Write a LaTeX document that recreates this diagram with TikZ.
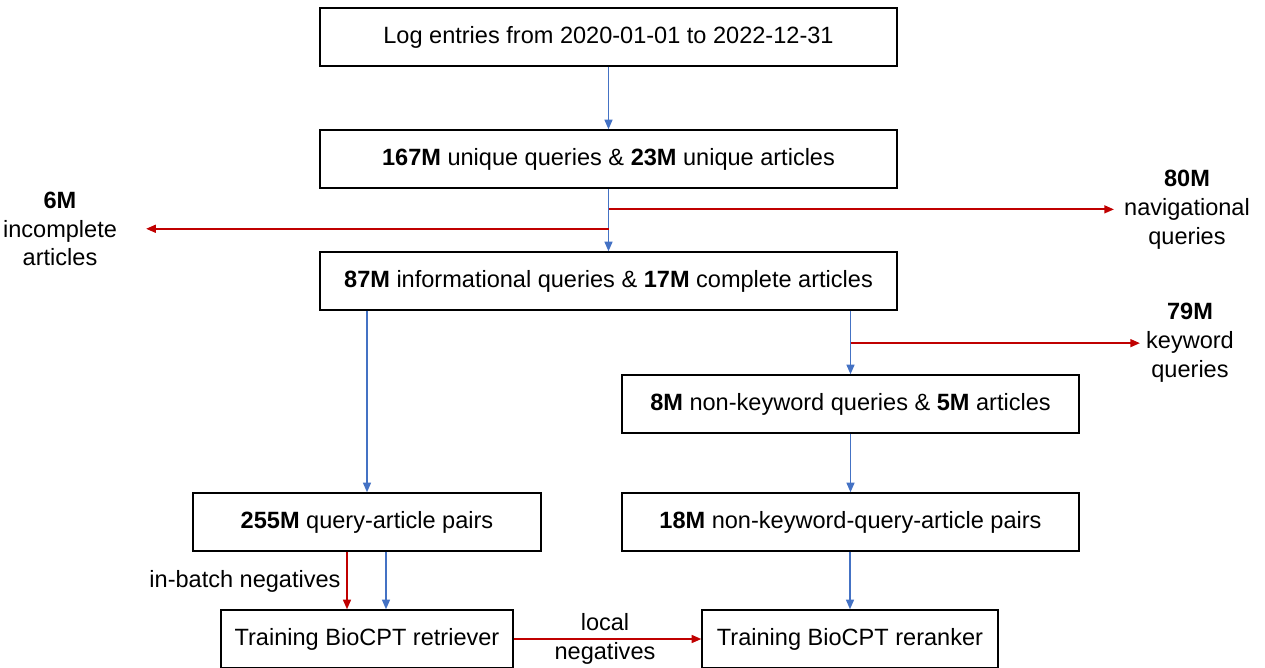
\documentclass[tikz,border=0pt]{standalone}
\usepackage{fontspec}
\setmainfont{Liberation Sans}
\usetikzlibrary{arrows.meta,calc}

\definecolor{keepblue}{RGB}{68,114,196}
\definecolor{dropred}{RGB}{192,0,0}

\tikzset{
    stage/.style={draw, line width=0.8pt, minimum height=1.16cm, inner sep=0pt},
    keep/.style={draw=keepblue, line width=0.95pt, -{Triangle[length=5.5pt,width=4.5pt]}},
    drop/.style={draw=dropred, line width=1pt, -{Triangle[length=5.5pt,width=4.5pt]}},
    side/.style={align=center}
}

\begin{document}
\begin{tikzpicture}[x=0.02cm, y=-0.02cm, font=\fontsize{13.4}{16.4}\selectfont]
            \useasboundingbox (0,0) rectangle (1265,667);

            \node[stage, minimum width=11.54cm] (log) at (608.5,37) {Log entries from 2020-01-01 to 2022-12-31};
            \node[stage, minimum width=11.54cm] (uniq) at (608.5,159) {\textbf{167M} unique queries \& \textbf{23M} unique articles};
            \node[stage, minimum width=11.54cm] (info) at (608.5,281) {\textbf{87M} informational queries \& \textbf{17M} complete articles};
            \node[stage, minimum width=9.14cm] (nonkw) at (850.5,404) {\textbf{8M} non-keyword queries \& \textbf{5M} articles};
            \node[stage, minimum width=6.96cm] (pairs) at (367,522) {\textbf{255M} query-article pairs};
            \node[stage, minimum width=9.14cm] (nkpairs) at (850.5,522) {\textbf{18M} non-keyword-query-article pairs};
            \node[stage, minimum width=5.84cm] (retr) at (367,639) {Training BioCPT retriever};
            \node[stage, minimum width=5.92cm] (rerank) at (850,639) {Training BioCPT reranker};

            \node[side] (nav) at (1187,210) {\textbf{80M}\\navigational\\queries};
            \node[side] (incompl) at (60,229) {\textbf{6M}\\incomplete\\articles};
            \node[side] (kw) at (1190,343) {\textbf{79M}\\keyword\\queries};
            \node (inbatch) at (245,581) {in-batch negatives};
            \node[side] (localneg) at (605,639) {local\\negatives};

            \coordinate (navcut) at ($(uniq.south)!0.33!(info.north)$);
            \coordinate (incut) at ($(uniq.south)!0.64!(info.north)$);
            \coordinate (kwcut) at ($(info.south -| nonkw.north)!0.51!(nonkw.north)$);

            \draw[keep] (log) -- (uniq);
            \draw[keep] (uniq) -- (info);
            \draw[keep] (info.south -| nonkw.north) -- (nonkw);
            \draw[keep] (info.south -| pairs.north) -- (pairs);
            \draw[keep] (nonkw) -- (nkpairs);
            \draw[keep] (nkpairs.south -| rerank.north) -- (rerank);
            \draw[keep] ([xshift=0.38cm]pairs.south) -- ([xshift=0.38cm]retr.north);

            \draw[drop] (navcut) -- ($(navcut -| nav.west)+(-4,0)$);
            \draw[drop] (incut) -- ($(incut -| incompl.east)+(23,0)$);
            \draw[drop] (kwcut) -- (kwcut -| kw.west);
            \draw[drop] ([xshift=-0.4cm]pairs.south) -- ([xshift=-0.4cm]retr.north);
            \draw[drop] (retr) -- (rerank);
\end{tikzpicture}
\end{document}
